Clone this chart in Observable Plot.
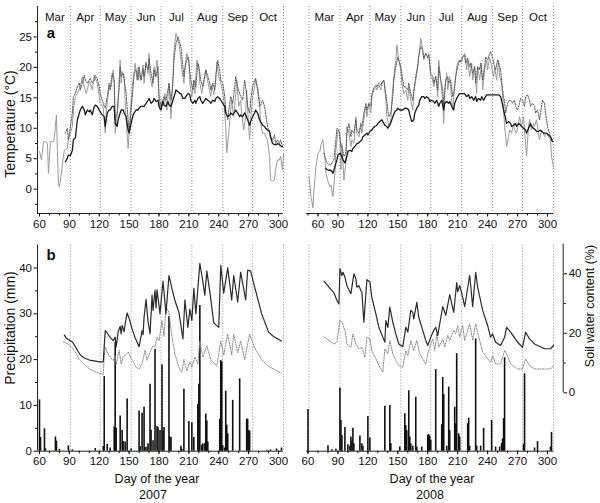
<!DOCTYPE html>
<html><head><meta charset="utf-8">
<script src="https://cdn.jsdelivr.net/npm/d3@7"></script>
<script src="https://cdn.jsdelivr.net/npm/@observablehq/plot@0.6"></script>
<style>
body{margin:0;background:#fff;}
#fig{position:relative;width:600px;height:503px;overflow:hidden;background:#fff;}
#fig svg{position:absolute;}
.lbl{position:absolute;white-space:nowrap;color:#111;font-family:'Liberation Sans',Arial,sans-serif;font-size:12.5px;line-height:1;}
</style></head><body><div id="fig"></div><script>
// ---------- categories / ticks ----------
const monthNames = ["Mar","Apr","May","Jun","Jul","Aug","Sep","Oct"];
const monthStart2007 = [60,91,121,152,182,213,244,274,305];
const monthStart2008 = [61,92,122,153,183,214,245,275,306];
const xMajorTicks = [60,90,120,150,180,210,240,270,300];
const xMinorTicks = [60,70,80,90,100,110,120,130,140,150,160,170,180,190,200,210,220,230,240,250,260,270,280,290,300];
const tempTicks = [0,5,10,15,20,25];
const tempMinor = [-2.5,2.5,7.5,12.5,17.5,22.5,27.5];
const precipTicks = [0,10,20,30,40];
const precipMinor = [5,15,25,35];
const swcTicks = [0,20,40];
const swcMinor = [10,30];

// ---------- 2007 temperature [day, °C] ----------
const airTemp2007 = [[60,6.2],[62,4.8],[64,7.8],[66,7.8],[68,7.5],[69,2.6],[71,7.8],[74,7.8],[75,8.6],[77,12.2],[78,6.4],[79,0.7],[80,0.4],[82,2.6],[84,5.4],[85,6.4],[88,6.7],[89,8.1],[91,9.2],[93,10.3],[94,13],[96,15.2],[98,15.7],[101,16.8],[103,18.5],[105,16.8],[107,15.7],[110,17.7],[111,17.4],[113,16.3],[115,18.7],[118,17.4],[119,16.3],[121,14.1],[123,13.6],[124,13.3],[126,9.2],[127,12.5],[130,16.8],[132,16.8],[134,19.6],[135,17.4],[136,9.2],[138,11.9],[139,14.6],[141,21.2],[142,17.4],[143,19.3],[145,18.5],[146,14.6],[147,11.4],[149,6.7],[151,11.9],[153,16.8],[155,19],[156,20.7],[158,17.9],[159,20.1],[161,18.2],[162,17.9],[164,20.4],[165,17.4],[167,20.9],[169,19],[170,22.3],[171,18.5],[173,16.8],[175,20.1],[176,18.5],[178,21.2],[180,14.9],[181,13],[183,14.6],[185,14.1],[186,15.7],[188,13],[190,17.4],[191,14.6],[192,11.6],[194,18.5],[195,22.8],[197,25.6],[198,25],[200,23.9],[201,22.8],[203,19.6],[205,17.4],[206,20.1],[208,22.3],[210,21.2],[211,17.4],[213,15.2],[215,17.9],[216,15.7],[218,21.2],[220,20.1],[221,17.4],[223,15.7],[225,17.9],[227,19.6],[228,18.5],[230,16.8],[232,15.2],[233,17.1],[235,15.5],[237,17.9],[238,20.9],[240,18.5],[242,17.4],[243,16.8],[245,14.6],[247,10.3],[248,5.9],[250,9.2],[252,13],[253,14.6],[255,11.9],[257,15.7],[258,17.9],[260,13.6],[262,14.6],[263,12.5],[265,9.7],[267,11.9],[268,16.3],[270,10.3],[271,8.1],[272,11.4],[274,15.2],[276,16.8],[277,17.9],[279,16.8],[281,14.6],[282,10.8],[284,9.2],[286,9.2],[287,8.6],[289,8.1],[291,5.4],[292,1.5],[294,1.3],[296,1.5],[297,3.2],[299,4.8],[301,4.8],[302,5.4],[304,3.2],[305,5.9]];
const surfTemp2007 = [[86,9.2],[88,10],[89,8.1],[91,10.3],[93,12.5],[94,15.2],[96,15.7],[98,16.8],[100,17.4],[101,16.3],[103,17.4],[105,18.7],[106,17.9],[108,17.4],[110,17.9],[111,18.2],[113,17.4],[115,17.9],[116,18.7],[118,18.2],[120,16.8],[121,15.7],[123,14.6],[125,13.6],[126,13.3],[128,15.2],[130,17.4],[131,16.3],[133,19],[135,17.9],[136,11.4],[138,12.5],[140,16.8],[141,20.1],[142,18.5],[144,19],[145,17.9],[147,15.7],[149,11.4],[150,9.2],[152,13],[154,16.8],[155,19],[157,19.6],[159,17.9],[160,20.1],[162,17.9],[164,19.8],[165,18.5],[167,20.7],[169,19.6],[170,21.5],[172,19],[174,17.4],[175,19.6],[177,18.5],[179,20.1],[180,15.2],[182,13.6],[184,14.6],[185,15.2],[187,14.6],[189,16.3],[190,17.4],[192,14.6],[194,17.4],[195,21.2],[197,23.9],[199,25],[200,24.5],[202,23.4],[204,20.1],[205,18.5],[207,20.7],[209,21.7],[210,20.7],[212,17.9],[214,16.3],[215,17.9],[217,16.8],[219,20.7],[220,20.1],[222,17.9],[224,16.8],[226,18.5],[227,19.6],[229,18.5],[231,17.4],[232,16.3],[234,17.4],[236,16.3],[237,18.5],[239,21.2],[241,19.3],[242,17.9],[244,17.4],[246,15.2],[247,13],[249,11.4],[251,14.1],[252,15.2],[254,14.1],[256,16.8],[257,18.5],[259,16.8],[261,15.7],[262,15.2],[264,14.6],[266,17.9],[267,16.8],[269,13.6],[271,12.5],[272,14.6],[274,16.8],[276,17.9],[277,18.2],[279,16.3],[281,13.6],[282,13.8],[284,14.6],[286,13.6],[287,12.5],[289,10.3],[291,9.2],[292,8.6],[294,8.1],[296,8.9],[297,7.5],[299,8.1],[301,7.5],[302,8.1],[304,7]];
const soilTemp2007 = [[86,4.5],[88,5.1],[89,5.6],[91,5.5],[93,6.4],[94,8.1],[96,8.4],[98,11.4],[100,12.5],[101,13],[103,13.6],[105,13],[106,12.2],[108,13],[110,12.7],[111,13],[113,12.2],[115,13.6],[116,13.8],[118,13.6],[120,13],[121,12.7],[123,12.2],[125,11.9],[126,10.3],[128,12.5],[130,13],[131,13],[133,13.6],[135,13.6],[136,10.8],[138,10.3],[139,11.4],[141,12.5],[142,13],[144,13],[145,12.5],[147,11.9],[149,9.7],[150,9.2],[152,10.8],[154,12.2],[155,12.5],[157,13],[159,13],[160,13.3],[162,13.6],[164,13.6],[165,13.6],[167,14.1],[169,14.6],[170,14.9],[172,14.1],[174,14.4],[175,14.9],[177,14.4],[179,14.6],[180,13.6],[182,13],[184,14.4],[185,13.8],[187,13.6],[189,14.4],[190,13.8],[192,13.6],[194,14.6],[196,15.7],[197,16.3],[199,16],[201,15.7],[202,15.7],[204,14.9],[206,14.9],[207,15.2],[209,15.7],[211,15.5],[212,14.6],[214,14.1],[216,14.6],[217,14.1],[219,14.9],[221,15.2],[222,14.6],[224,14.1],[226,14.6],[227,14.9],[229,14.6],[231,14.4],[232,14.1],[234,14.6],[236,14.4],[237,14.9],[239,15.2],[241,14.9],[242,14.6],[244,14.1],[246,13.6],[247,12.5],[249,11.9],[251,12.2],[252,12.5],[254,12.2],[256,12.7],[257,13],[259,12.5],[261,11.9],[262,12.2],[264,11.9],[266,12.5],[267,12.2],[269,11.4],[271,10.5],[272,11.1],[274,11.9],[276,12.5],[277,13],[279,12.5],[281,11.4],[282,11.1],[284,10.5],[286,10.3],[287,10],[289,9.7],[291,9.5],[292,8.6],[294,7.5],[296,7.3],[298,7.3],[299,7.5],[301,7.3],[303,7],[304,7]];

// ---------- 2008 temperature [day, °C] ----------
const airTemp2008 = [[61,2.1],[63,-1.2],[65,-3.1],[66,-0.1],[68,3.7],[70,5.9],[72,6.2],[73,7.3],[75,8.1],[77,4.8],[78,2.6],[80,1.3],[82,0.4],[83,0.7],[85,-1.2],[87,2.6],[88,6.4],[90,9.7],[92,9.2],[93,3.2],[94,7.5],[96,1.5],[98,4.3],[99,10.3],[101,9.2],[103,7],[104,8.1],[106,7.5],[108,11.9],[109,9.2],[111,8.6],[113,10.3],[114,9.2],[116,11.4],[118,13.6],[119,11.9],[121,14.1],[123,12.5],[124,15.2],[126,16.3],[128,16.8],[129,16.3],[131,17.1],[133,16.3],[134,17.4],[136,17.9],[138,14.6],[139,11.9],[141,10.3],[143,11.4],[144,14.6],[146,18.5],[148,21.2],[149,23.7],[151,21.2],[153,19.6],[154,17.4],[156,15.7],[158,16.3],[160,14.6],[161,16.8],[163,14.6],[165,13],[166,15.7],[168,17.9],[170,20.1],[171,21.7],[173,24.8],[175,22.8],[176,21.2],[178,22.3],[180,21.5],[181,22.3],[183,18.5],[185,17.9],[186,16.8],[188,18.5],[190,15.2],[191,21.2],[193,17.9],[195,14.6],[196,10.8],[197,16.3],[199,19],[200,16.3],[202,18.5],[204,14.6],[205,13],[207,16.8],[209,20.1],[210,20.7],[212,21.2],[214,20.9],[215,21.7],[217,22.3],[219,19.6],[220,21.2],[222,18.5],[224,20.7],[225,17.9],[227,20.1],[229,15.7],[230,20.1],[232,17.9],[234,20.7],[235,16.3],[237,19.6],[239,21.2],[240,19.6],[242,21.7],[244,20.1],[246,18.5],[247,20.1],[249,17.9],[251,21.2],[252,18.5],[254,17.4],[256,13],[257,10.3],[259,7],[261,8.6],[262,9.7],[264,9.2],[266,10.8],[267,9.7],[269,9.2],[271,10.8],[272,11.9],[274,10.3],[276,11.9],[277,9.7],[279,5.4],[281,10.3],[282,11.4],[284,9.7],[286,10.8],[287,10.3],[289,11.4],[291,9.2],[292,8.1],[294,9.7],[296,9.2],[297,8.6],[299,9.2],[301,8.6],[303,8.1],[304,5.4],[306,3.7]];
const surfTemp2008 = [[76,5.9],[78,4.8],[79,4.3],[81,4],[83,4],[84,4.3],[86,4.8],[88,8.1],[89,10],[91,9.7],[93,7],[94,7],[96,5.4],[98,5.9],[99,9.2],[101,10.8],[103,8.6],[104,9.7],[106,9.2],[108,11.4],[109,9.7],[111,9.2],[113,10.8],[114,10.3],[116,12.5],[118,14.1],[119,13],[121,14.1],[123,13.6],[124,15.7],[126,16.6],[128,17.1],[129,16.8],[131,17.4],[133,17.1],[135,17.7],[136,17.9],[138,15.7],[140,13],[141,11.9],[143,12.5],[145,15.2],[146,17.9],[148,20.1],[150,21.7],[151,21.2],[153,20.1],[155,17.9],[156,16.8],[158,16.8],[160,16.3],[161,17.4],[163,15.7],[165,14.6],[166,16.3],[168,18.5],[170,20.4],[171,22],[173,23.4],[175,22.8],[176,21.5],[178,22.3],[180,21.7],[181,22],[183,19],[185,18.5],[186,17.4],[188,18.5],[190,16.3],[191,20.1],[193,17.9],[195,16.3],[196,13.6],[198,17.9],[200,18.5],[201,17.4],[203,17.9],[205,15.2],[206,15.7],[208,18.5],[210,20.1],[212,21.2],[213,20.9],[215,21.7],[217,22],[218,20.7],[220,21.5],[222,20.1],[223,20.7],[225,19],[227,20.1],[228,17.4],[230,20.1],[232,19.6],[233,20.7],[235,17.9],[237,20.1],[238,21.7],[240,21.2],[242,22.3],[243,22.6],[245,21.5],[247,20.1],[248,19.6],[250,21.2],[252,20.1],[253,19.6],[255,16.3],[257,14.1],[258,12.5],[260,14.1],[262,14.6],[263,14.6],[265,14.1],[267,14.6],[268,13.6],[270,13],[272,14.1],[273,14.9],[275,14.6],[277,13.6],[278,15.2],[280,15.5],[282,14.6],[283,13.6],[285,14.1],[287,13.6],[288,12.5],[290,13],[292,11.4],[293,12.5],[295,14.6],[297,14.1],[298,12.5],[300,10.3],[302,9.2],[303,8.6],[305,8.1]];
const soilTemp2008 = [[78,3.4],[79,3.2],[81,3.1],[83,3.1],[84,2.9],[85,2.6],[87,3.7],[89,4.8],[90,5.6],[92,5.9],[94,5.4],[95,4.8],[97,4.3],[99,5.4],[100,6.2],[102,6.4],[104,6.2],[105,6.7],[107,7],[109,7.5],[110,7.5],[112,7.8],[114,8.1],[115,8.6],[117,8.9],[119,9.2],[120,8.9],[122,9.5],[124,9.7],[125,10],[127,10.3],[129,10.5],[130,10.8],[132,11.1],[134,11.4],[135,11.1],[137,10.5],[139,10.3],[140,10],[142,10.5],[144,11.4],[145,11.9],[147,12.7],[149,13],[150,13.3],[152,13],[154,13],[155,13],[157,13.3],[159,13.3],[161,13],[162,12.2],[164,11.1],[166,11.4],[167,12.5],[169,13.3],[171,13.8],[172,14.6],[174,15.2],[176,15.2],[177,14.9],[179,15.2],[181,14.9],[182,14.4],[184,14.6],[186,14.4],[187,14.1],[189,14.6],[191,13.6],[192,14.1],[194,14.6],[196,13],[197,14.1],[199,14.4],[201,14.1],[202,14.4],[204,13.6],[206,13],[207,14.1],[209,14.9],[211,15.5],[212,15.7],[214,15.7],[216,15.7],[217,15.7],[219,15.2],[221,15.5],[222,14.9],[224,15.2],[226,14.6],[228,15.2],[229,14.4],[231,14.9],[233,14.6],[234,15.2],[236,14.6],[238,15.2],[239,15.5],[241,15.5],[243,15.5],[244,15.5],[246,15.5],[248,15.5],[249,15.5],[251,15.5],[253,15.2],[254,14.6],[256,13],[258,11.6],[259,10.8],[261,11.1],[263,10.8],[264,10.3],[266,10.5],[268,10.8],[269,10.3],[271,10.8],[273,10.5],[274,10.3],[276,10],[278,9.7],[279,9.2],[281,10],[283,10.8],[284,10.3],[286,10],[288,9.7],[289,9.5],[291,9.5],[293,9.7],[294,9.5],[296,9.2],[298,9.2],[299,9.2],[301,8.9],[303,8.6],[304,8.1],[305,7.8]];

// ---------- precipitation [day, mm] ----------
const rain2007 = [[60,11.2],[61,3.0],[65,4.9],[66,0.5],[76,3.1],[77,2.2],[80,0.4],[89,1.2],[93,0.3],[116,0.6],[124,1.0],[125,16.3],[128,1.5],[131,0.7],[135,5.3],[136,23.8],[137,5.0],[141,7.7],[143,4.5],[144,2.1],[146,2.0],[148,11.4],[152,0.5],[160,8.8],[161,1.0],[163,8.3],[165,9.6],[166,0.8],[168,0.9],[169,1.6],[171,14.6],[172,4.6],[174,2.3],[176,22.2],[178,5.4],[179,5.1],[181,4.5],[183,18.9],[184,4.5],[185,5.2],[190,29.4],[191,3.1],[192,3.0],[202,1.1],[203,0.4],[205,13.5],[210,6.5],[213,6.2],[215,3.0],[219,10.2],[220,14.6],[221,31.8],[223,1.3],[224,1.6],[226,1.6],[227,8.1],[228,6.6],[229,2.0],[241,7.0],[242,19.8],[243,19.5],[244,1.2],[246,0.7],[247,13.1],[248,5.7],[249,3.8],[254,11.1],[261,15.8],[268,7.0],[269,7.0],[270,4.5],[271,4.4],[288,0.2],[292,0.3],[298,0.5],[303,0.7]];
const rain2008 = [[60,9.1],[80,1.2],[84,0.3],[88,0.4],[92,13.8],[93,6.7],[94,3.4],[97,5.2],[100,1.4],[102,1.1],[103,3.1],[104,2.2],[105,5.0],[106,1.6],[112,3.3],[114,1.6],[115,1.1],[120,7.6],[122,2.9],[137,9.8],[142,10.0],[143,1.6],[152,0.9],[157,8.2],[158,5.6],[159,4.5],[161,13.2],[162,3.1],[163,1.6],[165,1.1],[168,11.8],[169,0.9],[174,0.9],[180,3.5],[181,3.6],[182,3.3],[183,2.4],[188,17.8],[194,5.8],[195,16.1],[196,12.4],[199,1.1],[201,14.0],[202,4.5],[207,9.6],[208,6.0],[209,21.3],[211,3.8],[212,3.1],[220,6.0],[221,7.2],[222,1.1],[228,24.5],[229,1.1],[233,1.1],[236,5.0],[244,6.7],[248,0.9],[252,0.9],[254,1.7],[255,2.7],[256,7.1],[257,20.4],[276,1.5],[277,16.9],[287,0.7],[290,2.1],[303,0.9],[304,4.1]];

// ---------- soil water content [day, %] ----------
const swcSolid2007 = [[85,19.4],[87,18.3],[90,17.7],[93,17.1],[95,16.1],[98,14.3],[101,12.7],[105,11.7],[110,11.0],[115,10.7],[120,10.4],[124,10.4],[125,15.8],[126,20.9],[128,20.1],[131,18.6],[134,17.5],[136,18.7],[137,15.4],[139,20.5],[141,22.3],[142,19.8],[143,22.6],[145,20.5],[146,23.2],[148,26.8],[150,25.0],[153,21.5],[156,18.5],[160,15.5],[163,20.9],[164,19.5],[165,25.4],[167,31.4],[169,24.0],[171,19.8],[173,32.8],[174,27.7],[176,34.5],[177,28.5],[178,34.6],[181,26.6],[184,37.5],[187,26.6],[190,39.4],[193,35.0],[196,31.0],[200,27.0],[204,18.1],[206,31.2],[209,22.0],[211,28.1],[213,24.3],[215,35.1],[217,26.6],[221,43.5],[223,39.5],[226,32.8],[228,40.9],[231,34.0],[235,23.5],[240,22.0],[242,42.8],[245,33.5],[249,42.0],[253,31.2],[255,39.4],[259,30.5],[262,40.5],[267,31.2],[269,41.2],[272,40.9],[277,34.3],[283,26.6],[290,20.4],[295,18.9],[303,17.4]];
const swcDotted2007 = [[84,17.1],[88,16.5],[93,15.1],[97,13.0],[100,11.2],[105,9.5],[110,8.1],[115,7.2],[120,6.6],[124,6.1],[125,12.0],[126,15.4],[128,13.7],[131,12.0],[134,10.9],[136,12.5],[137,9.5],[140,14.3],[142,9.7],[144,12.0],[146,12.7],[149,13.7],[153,11.0],[157,8.6],[160,8.0],[163,9.7],[166,14.3],[168,10.9],[171,13.7],[174,15.8],[176,15.4],[178,18.7],[180,17.5],[183,24.3],[185,19.0],[187,28.8],[190,27.1],[193,18.7],[196,13.0],[201,7.5],[203,6.9],[205,11.2],[208,7.4],[211,10.4],[213,8.6],[216,12.0],[219,9.7],[221,17.4],[224,12.0],[228,15.8],[232,11.2],[238,8.9],[242,17.4],[245,12.7],[249,19.7],[253,12.7],[255,19.7],[259,13.5],[262,17.4],[266,11.2],[271,19.7],[276,15.1],[283,11.2],[290,8.9],[296,7.8],[303,6.6]];
const swcSolid2008 = [[76,37.5],[81,35.5],[86,33.6],[89,31],[91,29.9],[92,41.7],[94,39.4],[95,40.5],[97,38.9],[99,36],[103,33.3],[106,40],[108,38.3],[109,35.5],[111,36],[113,34.4],[114,33.8],[116,23.7],[118,33.3],[119,38],[122,37.2],[124,32.1],[128,26.5],[131,22],[135,18.7],[137,17],[138,24.3],[140,22],[142,28.8],[145,23.7],[148,19.8],[151,16.4],[155,15.5],[158,22],[160,20.4],[163,27.7],[165,27],[166,24.8],[169,30.4],[171,25.4],[175,21],[178,17.6],[180,15.9],[183,18.7],[186,21],[188,22],[190,19.3],[195,29],[198,26],[202,33],[206,27],[209,37],[210,34],[212,36],[215,32],[217,29],[222,39.5],[225,29],[228,40.5],[230,35.5],[235,27.7],[240,22.6],[243,18.7],[245,19.8],[248,17],[253,15.9],[257,18.7],[259,22],[263,20.4],[270,17],[275,15.3],[278,20.4],[282,18.1],[287,16.4],[297,14.8],[303,14.8],[306,15.9]];
const swcDotted2008 = [[76,18.7],[81,17.6],[86,16.4],[89,17],[92,24.3],[94,23.7],[97,21],[99,16.4],[103,15.3],[105,19.8],[108,16.4],[111,14.8],[114,15.3],[117,12],[119,18.7],[122,18.1],[124,14.2],[128,11.4],[131,9.2],[135,6.9],[137,14.8],[140,13.1],[142,17.6],[145,13.1],[148,10.9],[151,9.2],[155,8.6],[158,14.2],[160,12.5],[163,17.6],[166,14.2],[169,17.6],[172,13.1],[175,11.4],[178,9.7],[180,13.1],[183,16.4],[185,18.1],[187,14.2],[189,19.8],[191,15.3],[195,18.1],[197,15.3],[200,19.3],[202,17.6],[206,21],[208,19.8],[210,22.6],[212,18.7],[215,22.6],[217,17.6],[222,23.2],[225,17.6],[228,23.2],[232,17.6],[235,13.7],[240,11.4],[243,10.3],[245,12.5],[248,9.7],[253,9.7],[257,14.2],[259,13.1],[263,9.7],[270,8],[275,8],[278,11.4],[282,9.2],[287,8],[297,8],[303,8],[306,9.2]];

// ---------- layout ----------
const FONT = "'Liberation Sans',Arial,sans-serif";
const STYLE = {fontFamily: FONT, fontSize: "11.5px", background: "transparent", color: "#111", overflow: "visible"};
const xDom07 = [58, 305];
const xDom08 = [58.5, 306.5];
const xDom08Swc = [58.5, 315.7];
const tempDom = [-4, 30];
const precipDom = [0, 45];
const swcDom = [0, 50];
const X = d => d[0], Y = d => d[1];
const fig = document.getElementById("fig");

function place(svg, left, top) { svg.style.left = left + "px"; svg.style.top = top + "px"; fig.appendChild(svg); }
function monthLines(starts) { return Plot.ruleX(starts, {stroke: "#8c8c8c", strokeWidth: 1, strokeDasharray: "1,2"}); }
function monthText(starts) {
  return Plot.text(monthNames, {x: (d, i) => (starts[i] + starts[i + 1]) / 2, text: d => d, frameAnchor: "top", dy: 6, fill: "#111"});
}
function xAxis() {
  return [
    Plot.axisX(xMinorTicks, {tickSize: 2.5, tickFormat: () => "", label: null}),
    Plot.axisX(xMajorTicks, {tickSize: 3.5, tickPadding: 2.5, label: null})
  ];
}

// a: 2007 temperature
place(Plot.plot({
  width: 300, height: 240, marginLeft: 37, marginRight: 17, marginTop: 6, marginBottom: 27,
  x: {domain: xDom07}, y: {domain: tempDom}, style: STYLE,
  marks: [
    monthLines(monthStart2007.slice(1)),
    monthText(monthStart2007),
    Plot.line(airTemp2007, {x: X, y: Y, stroke: "#9a9a9a", strokeWidth: 1}),
    Plot.line(surfTemp2007, {x: X, y: Y, stroke: "#555", strokeWidth: 1, strokeDasharray: "1.3,1.3"}),
    Plot.line(soilTemp2007, {x: X, y: Y, stroke: "#1a1a1a", strokeWidth: 1.3}),
    Plot.ruleY([tempDom[0]], {stroke: "#222"}),
    Plot.ruleX([xDom07[0]], {stroke: "#222"}),
    ...xAxis(),
    Plot.axisY(tempTicks, {tickSize: 3.5, tickPadding: 2, label: null}),
    Plot.axisY(tempMinor, {tickSize: 2, tickFormat: () => "", label: null})
  ]
}), 0, 0);

// a: 2008 temperature
place(Plot.plot({
  width: 300, height: 240, marginLeft: 6, marginRight: 46.5, marginTop: 6, marginBottom: 27,
  x: {domain: xDom08}, y: {domain: tempDom, axis: null}, style: STYLE,
  marks: [
    monthLines(monthStart2008),
    monthText(monthStart2008),
    Plot.line(airTemp2008, {x: X, y: Y, stroke: "#9a9a9a", strokeWidth: 1}),
    Plot.line(surfTemp2008, {x: X, y: Y, stroke: "#555", strokeWidth: 1, strokeDasharray: "1.3,1.3"}),
    Plot.line(soilTemp2008, {x: X, y: Y, stroke: "#1a1a1a", strokeWidth: 1.3}),
    Plot.ruleY([tempDom[0]], {stroke: "#222"}),
    Plot.axisX(xMinorTicks, {tickSize: 2.5, tickFormat: () => "", label: null}),
    Plot.axisX(xMajorTicks.slice(1), {tickSize: 3.5, tickPadding: 2.5, label: null}),
    Plot.axisX(xMajorTicks.slice(0, 1), {tickSize: 3.5, tickPadding: 2.5, dx: 10, label: null})
  ]
}), 300, 0);

// b: 2007 precipitation
place(Plot.plot({
  width: 300, height: 240, marginLeft: 37, marginRight: 17, marginTop: 4.6, marginBottom: 29.3,
  x: {domain: xDom07}, y: {domain: precipDom}, style: STYLE,
  marks: [
    monthLines(monthStart2007.slice(1)),
    Plot.ruleX(rain2007, {x: X, y1: 0, y2: Y, stroke: "#111", strokeWidth: 1.6}),
    Plot.ruleY([0], {stroke: "#222"}),
    Plot.ruleX([xDom07[0]], {stroke: "#222"}),
    ...xAxis(),
    Plot.axisY(precipTicks, {tickSize: 3.5, tickPadding: 2, label: null}),
    Plot.axisY(precipMinor, {tickSize: 2, tickFormat: () => "", label: null})
  ]
}), 0, 240);
place(Plot.plot({
  width: 300, height: 240, marginLeft: 37, marginRight: 17, marginTop: 3.5, marginBottom: 87.7,
  x: {domain: xDom07, axis: null}, y: {domain: swcDom, axis: null}, style: STYLE,
  marks: [
    Plot.line(swcDotted2007, {x: X, y: Y, stroke: "#8a8a8a", strokeWidth: 1, strokeDasharray: "1.3,1.3"}),
    Plot.line(swcSolid2007, {x: X, y: Y, stroke: "#2a2a2a", strokeWidth: 1.2})
  ]
}), 0, 240);

// b: 2008 precipitation
place(Plot.plot({
  width: 300, height: 240, marginLeft: 6, marginRight: 46.5, marginTop: 4.6, marginBottom: 29.3,
  x: {domain: xDom08}, y: {domain: precipDom, axis: null}, style: STYLE,
  marks: [
    monthLines(monthStart2008),
    Plot.ruleX(rain2008, {x: X, y1: 0, y2: Y, stroke: "#111", strokeWidth: 1.6}),
    Plot.ruleY([0], {stroke: "#222"}),
    ...xAxis()
  ]
}), 300, 240);
place(Plot.plot({
  width: 300, height: 240, marginLeft: 6, marginRight: 37.3, marginTop: 3.5, marginBottom: 87.7,
  x: {domain: xDom08Swc, axis: null}, y: {domain: swcDom}, style: STYLE,
  marks: [
    Plot.line(swcDotted2008, {x: X, y: Y, stroke: "#8a8a8a", strokeWidth: 1, strokeDasharray: "1.3,1.3"}),
    Plot.line(swcSolid2008, {x: X, y: Y, stroke: "#2a2a2a", strokeWidth: 1.2}),
    Plot.ruleX([xDom08Swc[1]], {stroke: "#222"}),
    Plot.axisY(swcTicks, {anchor: "right", tickSize: 3.5, tickPadding: 2, label: null}),
    Plot.axisY(swcMinor, {anchor: "right", tickSize: 2, tickFormat: () => "", label: null})
  ]
}), 300, 240);

// ---------- text labels ----------
function label(text, cx, cy, opts = {}) {
  const d = document.createElement("div");
  d.className = "lbl";
  d.textContent = text;
  d.style.left = cx + "px"; d.style.top = cy + "px";
  d.style.transform = "translate(-50%,-50%)" + (opts.rot ? " rotate(-90deg)" : "");
  if (opts.size) d.style.fontSize = opts.size + "px";
  if (opts.bold) d.style.fontWeight = "bold";
  fig.appendChild(d);
}
label("a", 51, 32, {bold: true, size: 15});
label("b", 51, 254, {bold: true, size: 15});
label("Temperature (°C)", 10, 124, {rot: true, size: 14});
label("Precipitation (mm)", 10, 328, {rot: true, size: 14});
label("Soil water content (%)", 590, 306, {rot: true, size: 12.5});
label("Day of the year", 157, 479);
label("Day of the year", 432, 479);
label("2007", 153, 495);
label("2008", 430, 495);
</script></body></html>
